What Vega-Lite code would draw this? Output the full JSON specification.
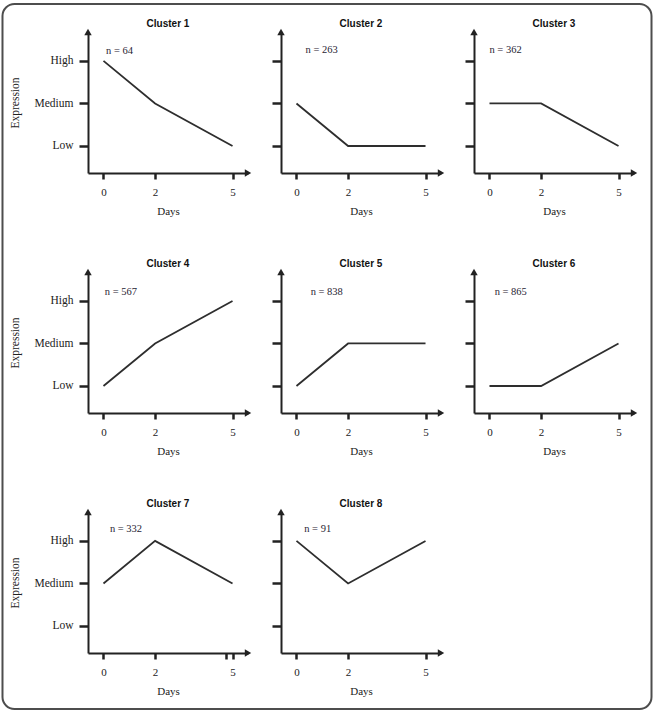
{
  "$schema": "https://vega.github.io/schema/vega-lite/v6.json",
  "padding": {"left": 1, "top": 3, "right": 0, "bottom": 0},
  "background": "white",
  "datasets": {
    "profiles": [
      {"cluster": "Cluster 1", "day": 0, "expression_level": 3},
      {"cluster": "Cluster 1", "day": 2, "expression_level": 2},
      {"cluster": "Cluster 1", "day": 5, "expression_level": 1},
      {"cluster": "Cluster 2", "day": 0, "expression_level": 2},
      {"cluster": "Cluster 2", "day": 2, "expression_level": 1},
      {"cluster": "Cluster 2", "day": 5, "expression_level": 1},
      {"cluster": "Cluster 3", "day": 0, "expression_level": 2},
      {"cluster": "Cluster 3", "day": 2, "expression_level": 2},
      {"cluster": "Cluster 3", "day": 5, "expression_level": 1},
      {"cluster": "Cluster 4", "day": 0, "expression_level": 1},
      {"cluster": "Cluster 4", "day": 2, "expression_level": 2},
      {"cluster": "Cluster 4", "day": 5, "expression_level": 3},
      {"cluster": "Cluster 5", "day": 0, "expression_level": 1},
      {"cluster": "Cluster 5", "day": 2, "expression_level": 2},
      {"cluster": "Cluster 5", "day": 5, "expression_level": 2},
      {"cluster": "Cluster 6", "day": 0, "expression_level": 1},
      {"cluster": "Cluster 6", "day": 2, "expression_level": 1},
      {"cluster": "Cluster 6", "day": 5, "expression_level": 2},
      {"cluster": "Cluster 7", "day": 0, "expression_level": 2},
      {"cluster": "Cluster 7", "day": 2, "expression_level": 3},
      {"cluster": "Cluster 7", "day": 5, "expression_level": 2},
      {"cluster": "Cluster 8", "day": 0, "expression_level": 3},
      {"cluster": "Cluster 8", "day": 2, "expression_level": 2},
      {"cluster": "Cluster 8", "day": 5, "expression_level": 3}
    ],
    "clusters": [
      {"cluster": "Cluster 1", "n": 64},
      {"cluster": "Cluster 2", "n": 263},
      {"cluster": "Cluster 3", "n": 362},
      {"cluster": "Cluster 4", "n": 567},
      {"cluster": "Cluster 5", "n": 838},
      {"cluster": "Cluster 6", "n": 865},
      {"cluster": "Cluster 7", "n": 332},
      {"cluster": "Cluster 8", "n": 91}
    ]
  },
  "config": {
    "view": {"stroke": null},
    "axis": {
      "grid": false,
      "domainColor": "#222222",
      "domainWidth": 2,
      "tickColor": "#222222",
      "tickWidth": 2.5,
      "labelFont": "Liberation Serif",
      "labelFontSize": 11,
      "labelColor": "#222222",
      "titleFont": "Liberation Serif",
      "titleFontSize": 11,
      "titleFontWeight": "normal",
      "titleColor": "#222222"
    },
    "axisX": {"tickSize": 6, "labelPadding": 7, "titlePadding": 8, "labelAngle": 0},
    "axisY": {"tickSize": 9, "labelPadding": 6, "titlePadding": 14, "titleFontSize": 11.5, "labelFontSize": 11.5},
    "title": {
      "font": "Liberation Sans",
      "fontSize": 10,
      "fontWeight": "bold",
      "color": "#111111",
      "offset": 0,
      "dy": 4,
      "frame": "group",
      "anchor": "middle"
    }
  },
  "columns": 3,
  "bounds": "flush",
  "spacing": {"row": 99, "column": 33},
  "concat": [
    {
      "width": 160, "height": 141,
      "title": {"text": "Cluster 1"},
      "layer": [
        {
          "data": {"name": "profiles"},
          "transform": [{"filter": "datum.cluster === 'Cluster 1'"}],
          "mark": {"type": "line", "color": "#2e2e2e", "strokeWidth": 1.8},
          "encoding": {
            "x": {"field": "day", "type": "quantitative", "scale": {"domain": [-0.6, 5.6], "nice": false, "zero": false}, "axis": {"values": [0, 2, 5], "title": "Days"}},
            "y": {"field": "expression_level", "type": "quantitative", "scale": {"domain": [0.365, 3.68], "nice": false, "zero": false}, "axis": {"values": [1, 2, 3], "labelExpr": "datum.value === 3 ? 'High' : datum.value === 2 ? 'Medium' : 'Low'", "title": "Expression"}}
          }
        },
        {
          "data": {"name": "clusters"},
          "transform": [{"filter": "datum.cluster === 'Cluster 1'"}, {"calculate": "'n = ' + datum.n", "as": "label"}],
          "mark": {"type": "text", "align": "left", "baseline": "middle", "font": "Liberation Serif", "fontSize": 10.5, "color": "#1f2433"},
          "encoding": {"x": {"datum": 0.1}, "y": {"datum": 3.24}, "text": {"field": "label"}}
        },
        {
          "data": {"values": [{}]},
          "mark": {"type": "point", "shape": "triangle-right", "filled": true, "size": 55, "color": "#222222", "opacity": 1},
          "encoding": {"x": {"datum": 5.6}, "y": {"datum": 0.365}}
        },
        {
          "data": {"values": [{}]},
          "mark": {"type": "point", "shape": "triangle-up", "filled": true, "size": 55, "color": "#222222", "opacity": 1},
          "encoding": {"x": {"datum": -0.6}, "y": {"datum": 3.68}}
        }
      ]
    },
    {
      "width": 160, "height": 141,
      "title": {"text": "Cluster 2"},
      "layer": [
        {
          "data": {"name": "profiles"},
          "transform": [{"filter": "datum.cluster === 'Cluster 2'"}],
          "mark": {"type": "line", "color": "#2e2e2e", "strokeWidth": 1.8},
          "encoding": {
            "x": {"field": "day", "type": "quantitative", "scale": {"domain": [-0.6, 5.6], "nice": false, "zero": false}, "axis": {"values": [0, 2, 5], "title": "Days"}},
            "y": {"field": "expression_level", "type": "quantitative", "scale": {"domain": [0.365, 3.68], "nice": false, "zero": false}, "axis": {"values": [1, 2, 3], "labels": false, "title": null}}
          }
        },
        {
          "data": {"name": "clusters"},
          "transform": [{"filter": "datum.cluster === 'Cluster 2'"}, {"calculate": "'n = ' + datum.n", "as": "label"}],
          "mark": {"type": "text", "align": "left", "baseline": "middle", "font": "Liberation Serif", "fontSize": 10.5, "color": "#1f2433"},
          "encoding": {"x": {"datum": 0.35}, "y": {"datum": 3.26}, "text": {"field": "label"}}
        },
        {
          "data": {"values": [{}]},
          "mark": {"type": "point", "shape": "triangle-right", "filled": true, "size": 55, "color": "#222222", "opacity": 1},
          "encoding": {"x": {"datum": 5.6}, "y": {"datum": 0.365}}
        },
        {
          "data": {"values": [{}]},
          "mark": {"type": "point", "shape": "triangle-up", "filled": true, "size": 55, "color": "#222222", "opacity": 1},
          "encoding": {"x": {"datum": -0.6}, "y": {"datum": 3.68}}
        }
      ]
    },
    {
      "width": 160, "height": 141,
      "title": {"text": "Cluster 3"},
      "layer": [
        {
          "data": {"name": "profiles"},
          "transform": [{"filter": "datum.cluster === 'Cluster 3'"}],
          "mark": {"type": "line", "color": "#2e2e2e", "strokeWidth": 1.8},
          "encoding": {
            "x": {"field": "day", "type": "quantitative", "scale": {"domain": [-0.6, 5.6], "nice": false, "zero": false}, "axis": {"values": [0, 2, 5], "title": "Days"}},
            "y": {"field": "expression_level", "type": "quantitative", "scale": {"domain": [0.365, 3.68], "nice": false, "zero": false}, "axis": {"values": [1, 2, 3], "labels": false, "title": null}}
          }
        },
        {
          "data": {"name": "clusters"},
          "transform": [{"filter": "datum.cluster === 'Cluster 3'"}, {"calculate": "'n = ' + datum.n", "as": "label"}],
          "mark": {"type": "text", "align": "left", "baseline": "middle", "font": "Liberation Serif", "fontSize": 10.5, "color": "#1f2433"},
          "encoding": {"x": {"datum": 0.0}, "y": {"datum": 3.25}, "text": {"field": "label"}}
        },
        {
          "data": {"values": [{}]},
          "mark": {"type": "point", "shape": "triangle-right", "filled": true, "size": 55, "color": "#222222", "opacity": 1},
          "encoding": {"x": {"datum": 5.6}, "y": {"datum": 0.365}}
        },
        {
          "data": {"values": [{}]},
          "mark": {"type": "point", "shape": "triangle-up", "filled": true, "size": 55, "color": "#222222", "opacity": 1},
          "encoding": {"x": {"datum": -0.6}, "y": {"datum": 3.68}}
        }
      ]
    },
    {
      "width": 160, "height": 141,
      "title": {"text": "Cluster 4"},
      "layer": [
        {
          "data": {"name": "profiles"},
          "transform": [{"filter": "datum.cluster === 'Cluster 4'"}],
          "mark": {"type": "line", "color": "#2e2e2e", "strokeWidth": 1.8},
          "encoding": {
            "x": {"field": "day", "type": "quantitative", "scale": {"domain": [-0.6, 5.6], "nice": false, "zero": false}, "axis": {"values": [0, 2, 5], "title": "Days"}},
            "y": {"field": "expression_level", "type": "quantitative", "scale": {"domain": [0.365, 3.68], "nice": false, "zero": false}, "axis": {"values": [1, 2, 3], "labelExpr": "datum.value === 3 ? 'High' : datum.value === 2 ? 'Medium' : 'Low'", "title": "Expression"}}
          }
        },
        {
          "data": {"name": "clusters"},
          "transform": [{"filter": "datum.cluster === 'Cluster 4'"}, {"calculate": "'n = ' + datum.n", "as": "label"}],
          "mark": {"type": "text", "align": "left", "baseline": "middle", "font": "Liberation Serif", "fontSize": 10.5, "color": "#1f2433"},
          "encoding": {"x": {"datum": 0.05}, "y": {"datum": 3.22}, "text": {"field": "label"}}
        },
        {
          "data": {"values": [{}]},
          "mark": {"type": "point", "shape": "triangle-right", "filled": true, "size": 55, "color": "#222222", "opacity": 1},
          "encoding": {"x": {"datum": 5.6}, "y": {"datum": 0.365}}
        },
        {
          "data": {"values": [{}]},
          "mark": {"type": "point", "shape": "triangle-up", "filled": true, "size": 55, "color": "#222222", "opacity": 1},
          "encoding": {"x": {"datum": -0.6}, "y": {"datum": 3.68}}
        }
      ]
    },
    {
      "width": 160, "height": 141,
      "title": {"text": "Cluster 5"},
      "layer": [
        {
          "data": {"name": "profiles"},
          "transform": [{"filter": "datum.cluster === 'Cluster 5'"}],
          "mark": {"type": "line", "color": "#2e2e2e", "strokeWidth": 1.8},
          "encoding": {
            "x": {"field": "day", "type": "quantitative", "scale": {"domain": [-0.6, 5.6], "nice": false, "zero": false}, "axis": {"values": [0, 2, 5], "title": "Days"}},
            "y": {"field": "expression_level", "type": "quantitative", "scale": {"domain": [0.365, 3.68], "nice": false, "zero": false}, "axis": {"values": [1, 2, 3], "labels": false, "title": null}}
          }
        },
        {
          "data": {"name": "clusters"},
          "transform": [{"filter": "datum.cluster === 'Cluster 5'"}, {"calculate": "'n = ' + datum.n", "as": "label"}],
          "mark": {"type": "text", "align": "left", "baseline": "middle", "font": "Liberation Serif", "fontSize": 10.5, "color": "#1f2433"},
          "encoding": {"x": {"datum": 0.55}, "y": {"datum": 3.22}, "text": {"field": "label"}}
        },
        {
          "data": {"values": [{}]},
          "mark": {"type": "point", "shape": "triangle-right", "filled": true, "size": 55, "color": "#222222", "opacity": 1},
          "encoding": {"x": {"datum": 5.6}, "y": {"datum": 0.365}}
        },
        {
          "data": {"values": [{}]},
          "mark": {"type": "point", "shape": "triangle-up", "filled": true, "size": 55, "color": "#222222", "opacity": 1},
          "encoding": {"x": {"datum": -0.6}, "y": {"datum": 3.68}}
        }
      ]
    },
    {
      "width": 160, "height": 141,
      "title": {"text": "Cluster 6"},
      "layer": [
        {
          "data": {"name": "profiles"},
          "transform": [{"filter": "datum.cluster === 'Cluster 6'"}],
          "mark": {"type": "line", "color": "#2e2e2e", "strokeWidth": 1.8},
          "encoding": {
            "x": {"field": "day", "type": "quantitative", "scale": {"domain": [-0.6, 5.6], "nice": false, "zero": false}, "axis": {"values": [0, 2, 5], "title": "Days"}},
            "y": {"field": "expression_level", "type": "quantitative", "scale": {"domain": [0.365, 3.68], "nice": false, "zero": false}, "axis": {"values": [1, 2, 3], "labels": false, "title": null}}
          }
        },
        {
          "data": {"name": "clusters"},
          "transform": [{"filter": "datum.cluster === 'Cluster 6'"}, {"calculate": "'n = ' + datum.n", "as": "label"}],
          "mark": {"type": "text", "align": "left", "baseline": "middle", "font": "Liberation Serif", "fontSize": 10.5, "color": "#1f2433"},
          "encoding": {"x": {"datum": 0.2}, "y": {"datum": 3.22}, "text": {"field": "label"}}
        },
        {
          "data": {"values": [{}]},
          "mark": {"type": "point", "shape": "triangle-right", "filled": true, "size": 55, "color": "#222222", "opacity": 1},
          "encoding": {"x": {"datum": 5.6}, "y": {"datum": 0.365}}
        },
        {
          "data": {"values": [{}]},
          "mark": {"type": "point", "shape": "triangle-up", "filled": true, "size": 55, "color": "#222222", "opacity": 1},
          "encoding": {"x": {"datum": -0.6}, "y": {"datum": 3.68}}
        }
      ]
    },
    {
      "width": 160, "height": 141,
      "title": {"text": "Cluster 7"},
      "layer": [
        {
          "data": {"name": "profiles"},
          "transform": [{"filter": "datum.cluster === 'Cluster 7'"}],
          "mark": {"type": "line", "color": "#2e2e2e", "strokeWidth": 1.8},
          "encoding": {
            "x": {"field": "day", "type": "quantitative", "scale": {"domain": [-0.6, 5.6], "nice": false, "zero": false}, "axis": {"values": [0, 2, 4.73, 5], "labelExpr": "datum.value === 4.73 ? '' : datum.label", "title": "Days"}},
            "y": {"field": "expression_level", "type": "quantitative", "scale": {"domain": [0.365, 3.68], "nice": false, "zero": false}, "axis": {"values": [1, 2, 3], "labelExpr": "datum.value === 3 ? 'High' : datum.value === 2 ? 'Medium' : 'Low'", "title": "Expression"}}
          }
        },
        {
          "data": {"name": "clusters"},
          "transform": [{"filter": "datum.cluster === 'Cluster 7'"}, {"calculate": "'n = ' + datum.n", "as": "label"}],
          "mark": {"type": "text", "align": "left", "baseline": "middle", "font": "Liberation Serif", "fontSize": 10.5, "color": "#1f2433"},
          "encoding": {"x": {"datum": 0.25}, "y": {"datum": 3.29}, "text": {"field": "label"}}
        },
        {
          "data": {"values": [{}]},
          "mark": {"type": "point", "shape": "triangle-right", "filled": true, "size": 55, "color": "#222222", "opacity": 1},
          "encoding": {"x": {"datum": 5.6}, "y": {"datum": 0.365}}
        },
        {
          "data": {"values": [{}]},
          "mark": {"type": "point", "shape": "triangle-up", "filled": true, "size": 55, "color": "#222222", "opacity": 1},
          "encoding": {"x": {"datum": -0.6}, "y": {"datum": 3.68}}
        }
      ]
    },
    {
      "width": 160, "height": 141,
      "title": {"text": "Cluster 8"},
      "layer": [
        {
          "data": {"name": "profiles"},
          "transform": [{"filter": "datum.cluster === 'Cluster 8'"}],
          "mark": {"type": "line", "color": "#2e2e2e", "strokeWidth": 1.8},
          "encoding": {
            "x": {"field": "day", "type": "quantitative", "scale": {"domain": [-0.6, 5.6], "nice": false, "zero": false}, "axis": {"values": [0, 2, 5], "title": "Days"}},
            "y": {"field": "expression_level", "type": "quantitative", "scale": {"domain": [0.365, 3.68], "nice": false, "zero": false}, "axis": {"values": [1, 2, 3], "labels": false, "title": null}}
          }
        },
        {
          "data": {"name": "clusters"},
          "transform": [{"filter": "datum.cluster === 'Cluster 8'"}, {"calculate": "'n = ' + datum.n", "as": "label"}],
          "mark": {"type": "text", "align": "left", "baseline": "middle", "font": "Liberation Serif", "fontSize": 10.5, "color": "#1f2433"},
          "encoding": {"x": {"datum": 0.3}, "y": {"datum": 3.29}, "text": {"field": "label"}}
        },
        {
          "data": {"values": [{}]},
          "mark": {"type": "point", "shape": "triangle-right", "filled": true, "size": 55, "color": "#222222", "opacity": 1},
          "encoding": {"x": {"datum": 5.6}, "y": {"datum": 0.365}}
        },
        {
          "data": {"values": [{}]},
          "mark": {"type": "point", "shape": "triangle-up", "filled": true, "size": 55, "color": "#222222", "opacity": 1},
          "encoding": {"x": {"datum": -0.6}, "y": {"datum": 3.68}}
        }
      ]
    },
    {
      "width": 160, "height": 141,
      "data": {"values": [{}]},
      "mark": {"type": "rect", "fillOpacity": 0, "stroke": "#4d4d4d", "strokeWidth": 2, "cornerRadius": 12},
      "encoding": {
        "x": {"datum": -2.9469, "scale": {"domain": [0, 1], "nice": false, "zero": false}, "axis": null},
        "x2": {"datum": 1.1094},
        "y": {"datum": 4.6028, "scale": {"domain": [0, 1], "nice": false, "zero": false}, "axis": null},
        "y2": {"datum": -0.397}
      }
    }
  ]
}
